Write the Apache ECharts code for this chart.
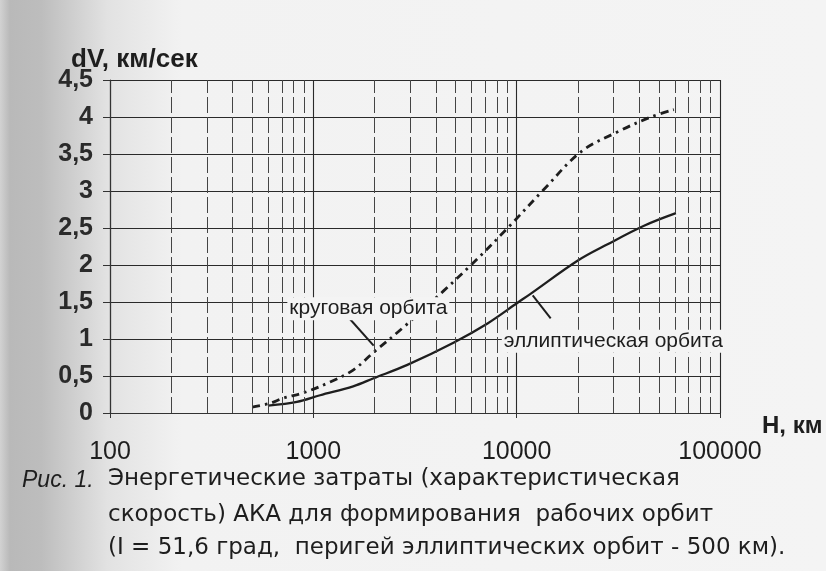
<!DOCTYPE html>
<html>
<head>
<meta charset="utf-8">
<script src="https://cdn.jsdelivr.net/npm/echarts@6/dist/echarts.min.js"></script>
<style>
html,body{margin:0;padding:0;background:#f4f4f4;}
#chart{width:826px;height:571px;}
</style>
</head>
<body>
<div id="chart"></div>
<script>
// ---- data ----
const xTicks = [100, 1000, 10000, 100000];
const minorGridH = [200,300,400,500,600,700,800,900,
                    2000,3000,4000,5000,6000,7000,8000,9000,
                    20000,30000,40000,50000,60000,70000,80000,90000];
const yTicks = [0,0.5,1,1.5,2,2.5,3,3.5,4,4.5];

const circH = [500, 610, 710, 910, 1210, 1570, 1980, 2780, 4370, 6070, 9030, 13600, 20700, 31400, 45700, 59300];
const circV = [0.08,0.13,0.20,0.28,0.42,0.58,0.82,1.16,1.65,2.02,2.50,3.02,3.53,3.80,4.00,4.10];

const ellH = [600, 830, 1080, 1570, 1980, 2900, 4890, 7190, 10100, 11700, 20000, 28000, 42300, 60700];
const ellV = [0.10,0.15,0.24,0.36,0.47,0.65,0.95,1.21,1.49,1.61,2.06,2.28,2.53,2.70];

const circLeaderH = [1490, 1980];
const circLeaderV = [1.29, 0.91];
const ellLeaderH = [11990, 14700];
const ellLeaderV = [1.59, 1.28];

const circLabel = {text: 'круговая орбита', h: 745, v: 1.41};
const ellLabel = {text: 'эллиптическая орбита', h: 8450, v: 0.97};

const yTitle = 'dV, км/сек';
const xTitle = 'H, км';
const captionFig = 'Рис. 1.';
const captionLines = [
  'Энергетические затраты (характеристическая',
  'скорость) АКА для формирования  рабочих орбит',
  '(I = 51,6 град,  перигей эллиптических орбит - 500 км).'
];

const zip = (a, b) => a.map((v, i) => [v, b[i]]);
const FONT = '"Liberation Sans", Arial, sans-serif';
const CAPFONT = '"DejaVu Sans", "Liberation Sans", sans-serif';
const INK = '#1e1e1e';
const BG = '#f4f4f4';

const chart = echarts.init(document.getElementById('chart'), null, {renderer: 'canvas'});
chart.setOption({
  animation: false,
  backgroundColor: {
    type: 'linear', x: 0, y: 0, x2: 1, y2: 0,
    colorStops: [
      {offset: 0, color: '#d2d2d2'},
      {offset: 0.012, color: '#b9b9b9'},
      {offset: 0.05, color: '#bdbdbd'},
      {offset: 0.13, color: '#e2e2e2'},
      {offset: 0.22, color: '#f2f2f2'},
      {offset: 1, color: BG}
    ]
  },
  title: [
    {text: yTitle, left: 66, top: 42, textStyle: {fontFamily: FONT, fontSize: 26, fontWeight: 'bold', color: INK}},
    {text: xTitle, left: 757, top: 409, textStyle: {fontFamily: FONT, fontSize: 24, fontWeight: 'bold', color: INK}},
    {text: captionFig, left: 17, top: 464, textStyle: {fontFamily: FONT, fontSize: 23, fontStyle: 'italic', fontWeight: 'normal', color: INK}},
    {text: captionLines[0], left: 103, top: 463, textStyle: {fontFamily: CAPFONT, fontSize: 23, fontWeight: 'normal', color: INK}},
    {text: captionLines[1], left: 103, top: 499, textStyle: {fontFamily: CAPFONT, fontSize: 23, fontWeight: 'normal', color: INK}},
    {text: captionLines[2], left: 103, top: 532, textStyle: {fontFamily: CAPFONT, fontSize: 23, fontWeight: 'normal', color: INK}}
  ],
  grid: {left: 110, right: 106, top: 80, bottom: 158, containLabel: false},
  xAxis: {
    type: 'log', logBase: 10, min: xTicks[0], max: xTicks[xTicks.length - 1],
    axisLine: {show: true, lineStyle: {color: '#333', width: 1.2}},
    axisTick: {show: true, length: 5, lineStyle: {color: '#333'}},
    axisLabel: {
      margin: 27, fontFamily: FONT, fontSize: 25, color: INK,
      formatter: v => String(Math.round(v))
    },
    splitLine: {show: true, lineStyle: {color: '#2a2a2a', width: 1.1}},
    minorTick: {show: false},
    minorSplitLine: {show: false}
  },
  yAxis: {
    type: 'value', min: 0, max: 4.5, interval: 0.5,
    axisLine: {show: true, lineStyle: {color: '#333', width: 1.2}},
    axisTick: {show: true, length: 7, lineStyle: {color: '#333'}},
    axisLabel: {
      margin: 17, fontFamily: FONT, fontSize: 25, fontWeight: 'bold', color: '#2a2a2a',
      formatter: v => String(v).replace('.', ',')
    },
    splitLine: {show: true, lineStyle: {color: '#2a2a2a', width: 1.1}}
  },
  series: [
    {
      name: 'minor grid', type: 'line', data: [], silent: true,
      markLine: {
        silent: true, symbol: 'none', label: {show: false},
        lineStyle: {color: '#444', width: 1, type: [16, 4]},
        data: minorGridH.map(h => ({xAxis: h}))
      }
    },
    {
      name: 'круговая орбита', type: 'line', data: zip(circH, circV),
      smooth: 0.35, symbol: 'none',
      lineStyle: {color: INK, width: 2.8, type: [8, 5, 2.5, 5]}
    },
    {
      name: 'эллиптическая орбита', type: 'line', data: zip(ellH, ellV),
      smooth: 0.35, symbol: 'none',
      lineStyle: {color: INK, width: 2.3, type: 'solid'}
    },
    {
      name: 'leader1', type: 'line', data: zip(circLeaderH, circLeaderV),
      symbol: 'none', lineStyle: {color: INK, width: 2}
    },
    {
      name: 'leader2', type: 'line', data: zip(ellLeaderH, ellLeaderV),
      symbol: 'none', lineStyle: {color: INK, width: 2}
    },
    {
      name: 'labels', type: 'scatter', symbolSize: 0, z: 5,
      itemStyle: {color: INK},
      data: [[circLabel.h, circLabel.v, circLabel.text], [ellLabel.h, ellLabel.v, ellLabel.text]],
      label: {
        show: true, position: 'right', distance: 0,
        formatter: p => p.data[2],
        fontFamily: FONT, fontSize: 21, color: INK,
        textBorderWidth: 0, opacity: 1,
        backgroundColor: BG, padding: [1, 2, 1, 2]
      }
    }
  ]
});
</script>
</body>
</html>
